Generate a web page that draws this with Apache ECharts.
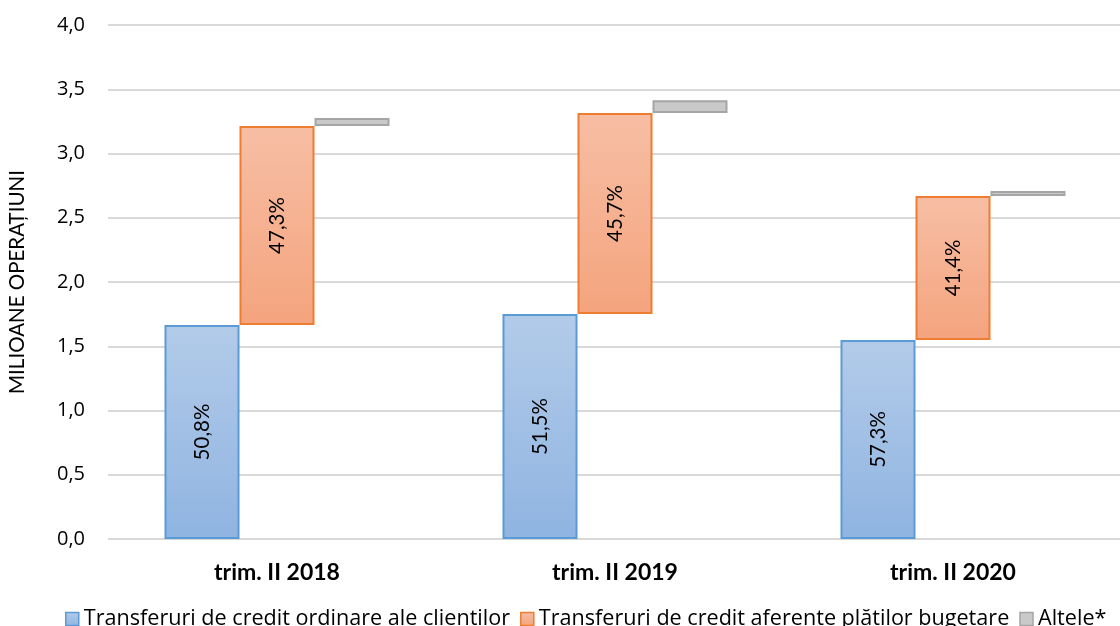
<!DOCTYPE html>
<html>
<head>
<meta charset="utf-8">
<script src="https://cdn.jsdelivr.net/npm/echarts@6/dist/echarts.min.js"></script>
<style>
  html, body { margin: 0; padding: 0; background: #fff; }
  #chart { width: 1120px; height: 626px; }
</style>
</head>
<body>
<div id="chart"></div>
<script>
// date (milioane operatiuni)
var categories = ['trim. II 2018', 'trim. II 2019', 'trim. II 2020'];
var ordinare = [1.665, 1.751, 1.549];
var bugetare = [1.549, 1.564, 1.120];
var altele = [0.062, 0.100, 0.039];
var pctOrdinare = ['50,8%', '51,5%', '57,3%'];
var pctBugetare = ['47,3%', '45,7%', '41,4%'];
var yTicks = [0, 0.5, 1, 1.5, 2, 2.5, 3, 3.5, 4];

var FONT = 'Lato, "Open Sans", sans-serif';
var FONT2 = '"Open Sans", Lato, sans-serif';

var baseBugetare = ordinare.slice();
var baseAltele = ordinare.map(function (v, i) { return v + bugetare[i]; });

function grad(top, bottom) {
  return new echarts.graphic.LinearGradient(0, 0, 0, 1, [
    { offset: 0, color: top },
    { offset: 1, color: bottom }
  ]);
}

var myChart = echarts.init(document.getElementById('chart'));
var option = {
  animation: false,
  textStyle: { fontFamily: FONT },
  grid: { left: 108, top: 25, width: 1014, bottom: 87, outerBoundsMode: 'none', containLabel: false },
  legend: {
    top: 603,
    left: 60,
    icon: 'rect',
    itemWidth: 13,
    itemHeight: 13,
    itemGap: 10,
    itemStyle: { borderWidth: 1.5 },
    textStyle: { fontSize: 21.6, color: '#000', fontFamily: FONT2, padding: [0, 0, 0, 0] },
    data: [
      'Transferuri de credit ordinare ale clienților',
      'Transferuri de credit aferente plăților bugetare',
      'Altele*'
    ]
  },
  xAxis: {
    type: 'category',
    data: categories,
    axisLine: { show: false },
    axisTick: { show: false },
    axisLabel: { fontSize: 23, fontWeight: 'bold', color: '#000', margin: 22, fontFamily: FONT }
  },
  yAxis: {
    type: 'value',
    min: 0,
    max: 4,
    interval: 0.5,
    name: 'MILIOANE OPERAȚIUNI',
    nameLocation: 'middle',
    nameGap: 80,
    nameRotate: 90,
    nameTextStyle: { fontSize: 20.5, color: '#000', fontFamily: FONT },
    axisLabel: {
      fontSize: 20, color: '#000', margin: 23, fontFamily: FONT2,
      formatter: function (v) { return v.toFixed(1).replace('.', ','); }
    },
    splitLine: { lineStyle: { color: '#d9d9d9', width: 2 } }
  },
  series: [
    {
      name: 'Transferuri de credit ordinare ale clienților',
      type: 'bar',
      stack: 'a',
      barWidth: 75,
      barGap: '0%',
      data: ordinare,
      itemStyle: { color: grad('#b3cbe9', '#8fb4e1'), borderColor: '#5b9bd5', borderWidth: 2 },
      label: {
        show: true, position: 'inside', rotate: 90, fontSize: 20.5, color: '#000', fontFamily: FONT,
        formatter: function (p) { return pctOrdinare[p.dataIndex]; }
      }
    },
    {
      name: 'base1',
      type: 'bar',
      stack: 'b',
      barWidth: 75,
      data: baseBugetare,
      itemStyle: { color: 'transparent' },
      silent: true
    },
    {
      name: 'Transferuri de credit aferente plăților bugetare',
      type: 'bar',
      stack: 'b',
      barWidth: 75,
      data: bugetare,
      itemStyle: { color: grad('#f7bea4', '#f4a47e'), borderColor: '#ed7d31', borderWidth: 2 },
      label: {
        show: true, position: 'inside', rotate: 90, fontSize: 20.5, color: '#000', fontFamily: FONT,
        formatter: function (p) { return pctBugetare[p.dataIndex]; }
      }
    },
    {
      name: 'base2',
      type: 'bar',
      stack: 'c',
      barWidth: 75,
      data: baseAltele,
      itemStyle: { color: 'transparent' },
      silent: true
    },
    {
      name: 'Altele*',
      type: 'bar',
      stack: 'c',
      barWidth: 75,
      data: altele,
      itemStyle: { color: '#c9c9c9', borderColor: '#a5a5a5', borderWidth: 2 }
    }
  ]
};
myChart.setOption(option);
</script>
</body>
</html>
